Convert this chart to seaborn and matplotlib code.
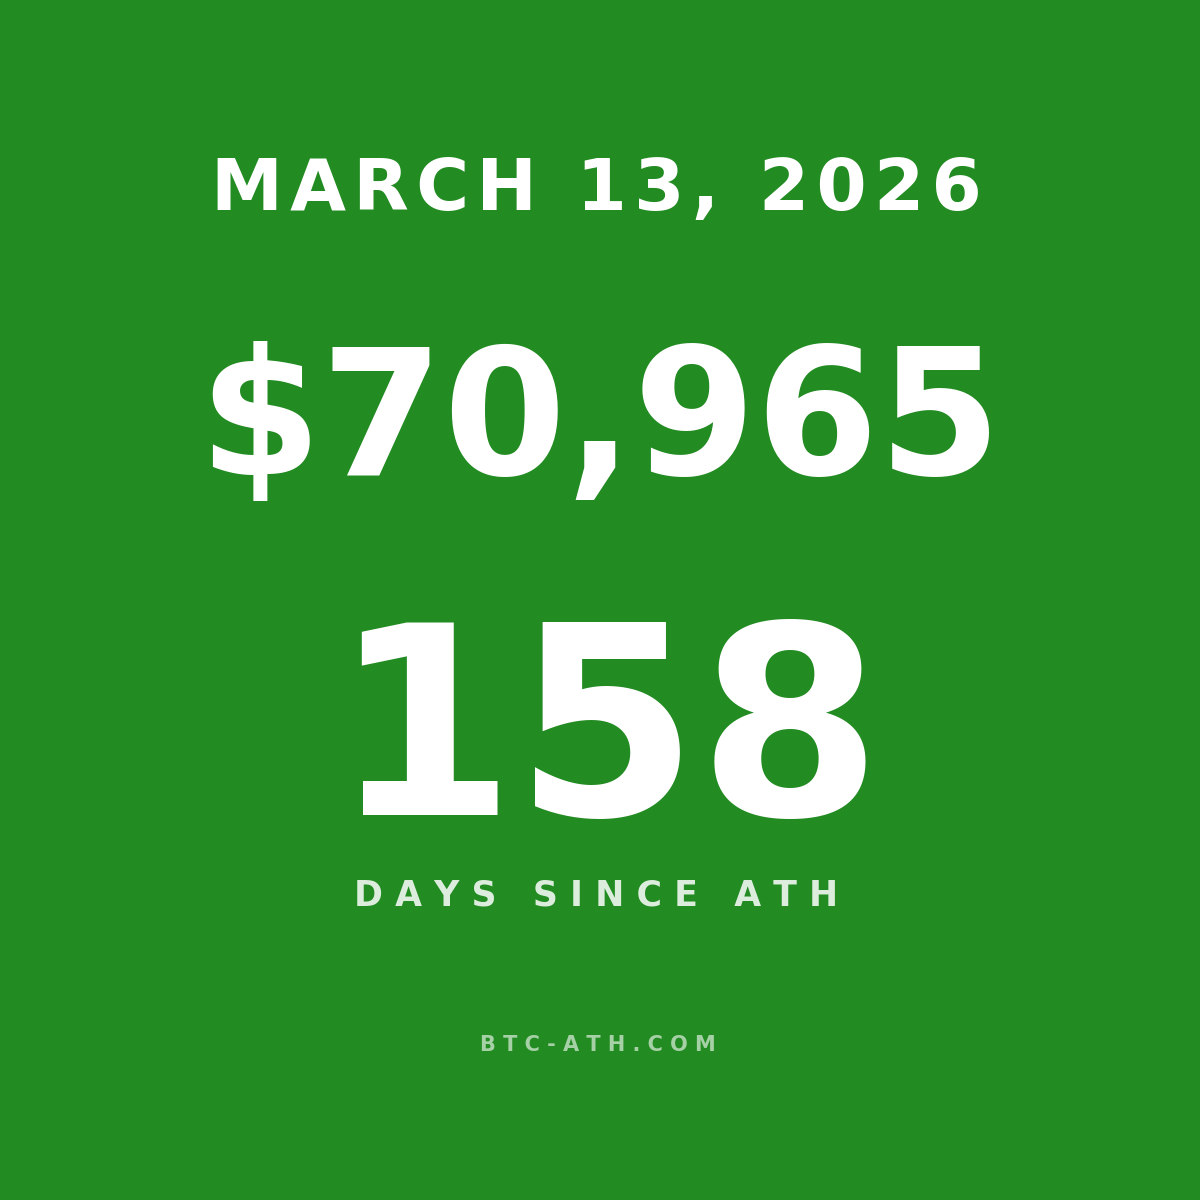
import matplotlib

matplotlib.use("Agg")

import matplotlib.pyplot as plt
import seaborn as sns

# values shown on the card
date_label = "MARCH 13, 2026"
price_usd = 70965
days_since_ath = 158
caption_words = ["DAYS", "SINCE", "ATH"]
site_name = "BTC-ATH.COM"

BG = "#228B22"


def spaced(text: str, gap: str = " ") -> str:
    return gap.join(text)


def main() -> None:
    sns.set_theme(style="white", rc={"axes.facecolor": BG, "figure.facecolor": BG})
    plt.rcParams["font.family"] = ["DejaVu Sans"]

    fig = plt.figure(figsize=(12, 12), dpi=100)
    ax = fig.add_axes([0, 0, 1, 1])
    ax.set_xlim(0, 1200)
    ax.set_ylim(1200, 0)
    ax.axis("off")

    # hair spaces give the heading a little tracking
    ax.text(596, 210, spaced(date_label, "\u200a"), ha="center", va="baseline", color="white",
            fontsize=52, fontweight="bold")
    ax.text(600, 475, f"${price_usd:,}", ha="center", va="baseline", color="white",
            fontsize=127, fontweight="bold")
    ax.text(607, 815, str(days_since_ath), ha="center", va="baseline", color="white",
            fontsize=190, fontweight="bold")
    caption = "   ".join(spaced(word) for word in caption_words)
    ax.text(596, 905, caption, ha="center", va="baseline", color="white", alpha=0.85,
            fontsize=25, fontweight="bold")
    ax.text(598, 1051, spaced(site_name), ha="center", va="baseline", color="white", alpha=0.6,
            fontsize=15, fontweight="bold")

    fig.savefig("out.png", dpi=100, facecolor=BG)
    plt.close(fig)


if __name__ == "__main__":
    main()
